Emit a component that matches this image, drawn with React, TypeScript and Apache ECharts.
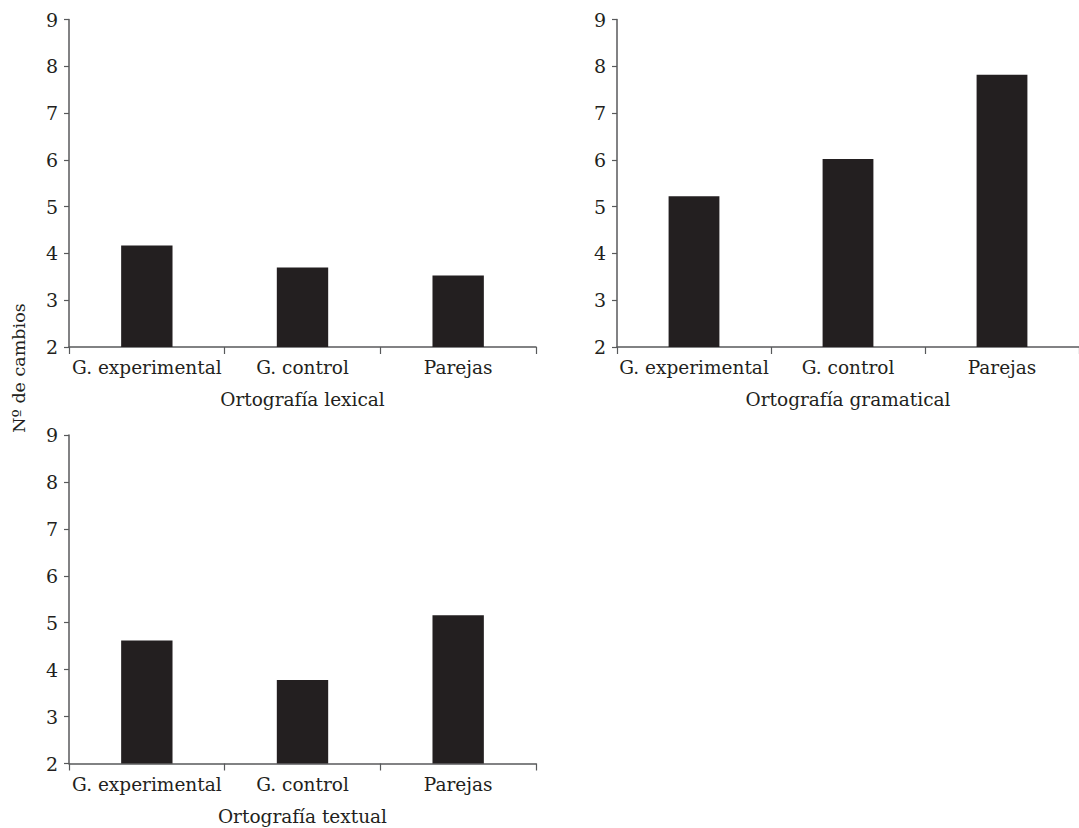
import React, { useEffect, useRef } from "react";
import * as echarts from "echarts";

const categories = ["G. experimental", "G. control", "Parejas"];
const lexicalValues = [4.17, 3.7, 3.53];
const gramaticalValues = [5.22, 6.02, 7.82];
const textualValues = [4.62, 3.78, 5.16];
const panelTitles = ["Ortografía lexical", "Ortografía gramatical", "Ortografía textual"];
const yTitle = "Nº de cambios";
const yMin = 2;
const yMax = 9;
const yInterval = 1;

const FONT = "DejaVu Serif";
const TEXT = "#231f20";
const AXIS = "#58595b";
const BAR = "#231f20";
const FS = 18.5;

export default function App() {
  const ref = useRef<HTMLDivElement>(null);
  useEffect(() => {
    if (!ref.current) return;
    const chart = echarts.init(ref.current, null, { renderer: "svg" });
    const grids = [
      { left: 69, top: 19.5, width: 467, height: 327.5 },
      { left: 617, top: 19.5, width: 463, height: 327.5 },
      { left: 69, top: 435, width: 467, height: 328.5 },
    ];
    const allValues = [lexicalValues, gramaticalValues, textualValues];
    const xAxes = grids.map((_, i) => ({
      type: "category",
      gridIndex: i,
      data: categories,
      boundaryGap: true,
      name: panelTitles[i],
      nameLocation: "middle",
      nameGap: 43,
      nameTextStyle: { fontFamily: FONT, fontSize: FS, color: TEXT },
      axisLine: { show: true, lineStyle: { color: AXIS, width: 1.5 } },
      axisTick: { show: true, length: 7, lineStyle: { color: AXIS, width: 1.2 } },
      axisLabel: { interval: 0, margin: 11, fontFamily: FONT, fontSize: FS, color: TEXT },
      splitLine: { show: false },
    }));
    const yAxes = grids.map((_, i) => ({
      type: "value",
      gridIndex: i,
      min: yMin,
      max: yMax,
      interval: yInterval,
      axisLine: { show: true, lineStyle: { color: AXIS, width: 1.5 } },
      axisTick: { show: true, length: 5, lineStyle: { color: AXIS, width: 1.2 } },
      axisLabel: { margin: 11, fontFamily: FONT, fontSize: FS + 0.5, color: TEXT },
      splitLine: { show: false },
    }));
    const series = allValues.map((vals, i) => ({
      type: "bar",
      xAxisIndex: i,
      yAxisIndex: i,
      data: vals,
      barWidth: "33%",
      itemStyle: { color: BAR },
    }));
    chart.setOption({
      animation: false,
      backgroundColor: "#ffffff",
      grid: grids,
      xAxis: xAxes,
      yAxis: yAxes,
      series,
      graphic: [
        {
          type: "text",
          x: 19,
          y: 368,
          rotation: Math.PI / 2,
          style: {
            text: yTitle,
            fontFamily: FONT,
            fontSize: 17.5,
            fill: TEXT,
            align: "center",
            verticalAlign: "middle",
          },
        },
      ],
    });
    return () => chart.dispose();
  }, []);
  return (
    <div
      ref={ref}
      style={{ position: "fixed", left: 0, top: 0, width: 1079, height: 828, background: "#fff" }}
    />
  );
}
